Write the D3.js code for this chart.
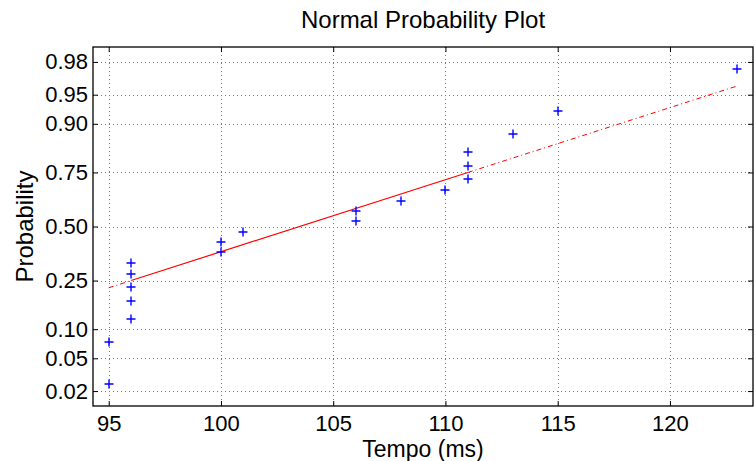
<!DOCTYPE html>
<html>
<head>
<title>Normal Probability Plot</title>
<script src="https://cdnjs.cloudflare.com/ajax/libs/d3/7.8.5/d3.min.js"></script>
<style>
  body { margin: 0; background: #fff; }
  svg text { font-family: "Liberation Sans", Arial, Helvetica, sans-serif; fill: #000; }
</style>
</head>
<body>
<svg id="chart" width="755" height="461"></svg>
<script>
// sorted sample values (ms) and their plotting probabilities
var tempo = [95, 95, 96, 96, 96, 96, 96, 100, 100, 101,
             106, 106, 108, 110, 111, 111, 111, 113, 115, 123];
var prob = [0.025, 0.075, 0.125, 0.175, 0.225, 0.275, 0.325, 0.375, 0.425, 0.475,
            0.525, 0.575, 0.625, 0.675, 0.725, 0.775, 0.825, 0.875, 0.925, 0.975];

// reference line: through the quartiles, extended to the data range
var fitX = [96, 111];
var fitP = [0.25, 0.75];
var fitRange = [95, 123];

var xTicks = [95, 100, 105, 110, 115, 120];
var yTicks = [0.02, 0.05, 0.10, 0.25, 0.50, 0.75, 0.90, 0.95, 0.98];
var yTickLabels = ["0.02", "0.05", "0.10", "0.25", "0.50", "0.75", "0.90", "0.95", "0.98"];

// inverse normal cdf (Acklam)
function norminv(p) {
  var a = [-39.69683028665376, 220.9460984245205, -275.9285104469687, 138.3577518672690, -30.66479806614716, 2.506628277459239];
  var b = [-54.47609879822406, 161.5858368580409, -155.6989798598866, 66.80131188771972, -13.28068155288572];
  var c = [-0.007784894002430293, -0.3223964580411365, -2.400758277161838, -2.549732539343734, 4.374664141464968, 2.938163982698783];
  var d = [0.007784695709041462, 0.3224671290700398, 2.445134137142996, 3.754408661907416];
  var pl = 0.02425, q, r;
  if (p < pl) {
    q = Math.sqrt(-2 * Math.log(p));
    return (((((c[0]*q+c[1])*q+c[2])*q+c[3])*q+c[4])*q+c[5]) / ((((d[0]*q+d[1])*q+d[2])*q+d[3])*q+1);
  }
  if (p > 1 - pl) {
    q = Math.sqrt(-2 * Math.log(1 - p));
    return -(((((c[0]*q+c[1])*q+c[2])*q+c[3])*q+c[4])*q+c[5]) / ((((d[0]*q+d[1])*q+d[2])*q+d[3])*q+1);
  }
  q = p - 0.5; r = q * q;
  return (((((a[0]*r+a[1])*r+a[2])*r+a[3])*r+a[4])*r+a[5])*q / (((((b[0]*r+b[1])*r+b[2])*r+b[3])*r+b[4])*r+1);
}

var margin = {top: 47, right: 2, bottom: 55, left: 93};
var svg = d3.select("#chart");
var W = +svg.attr("width") - margin.left - margin.right;
var H = +svg.attr("height") - margin.top - margin.bottom;
var g = svg.append("g").attr("transform", "translate(" + margin.left + "," + margin.top + ")");

var x = d3.scaleLinear().domain([94.3, 123.7]).range([0, W]);
var z = d3.scaleLinear().domain([-2.24, 2.24]).range([H, 0]);
function y(p) { return z(norminv(p)); }

// grid
g.selectAll(".vgrid").data(xTicks).enter().append("line")
  .attr("x1", d => Math.round(x(d)) + 0.5).attr("x2", d => Math.round(x(d)) + 0.5).attr("y1", 0).attr("y2", H)
  .attr("stroke", "#777").attr("stroke-width", 1).attr("stroke-dasharray", "1,3");
g.selectAll(".hgrid").data(yTicks).enter().append("line")
  .attr("x1", 0).attr("x2", W).attr("y1", d => Math.round(y(d)) + 0.5).attr("y2", d => Math.round(y(d)) + 0.5)
  .attr("stroke", "#777").attr("stroke-width", 1).attr("stroke-dasharray", "1,3");

// axes
var zTicks = yTicks.map(norminv);
g.append("g").attr("transform", "translate(0," + H + ")")
  .call(d3.axisBottom(x).tickValues(xTicks).tickSizeInner(-5).tickSizeOuter(0).tickPadding(9));
g.append("g")
  .call(d3.axisLeft(z).tickValues(zTicks).tickFormat((d, i) => yTickLabels[i]).tickSizeInner(-5).tickSizeOuter(0).tickPadding(5));
g.append("g")
  .call(d3.axisTop(x).tickValues(xTicks).tickSizeInner(-5).tickSizeOuter(0).tickFormat(""));
g.append("g").attr("transform", "translate(" + W + ",0)")
  .call(d3.axisRight(z).tickValues(zTicks).tickSizeInner(-5).tickSizeOuter(0).tickFormat(""));
g.selectAll(".domain").remove();
g.selectAll(".tick line").attr("stroke", "#000");
g.selectAll(".tick text").style("font-size", "22px").attr("fill", "#000");

g.append("rect").attr("width", W).attr("height", H)
  .attr("fill", "none").attr("stroke", "#000").attr("stroke-width", 1.3);

// reference line
var slope = (norminv(fitP[1]) - norminv(fitP[0])) / (fitX[1] - fitX[0]);
function fitZ(v) { return norminv(fitP[0]) + slope * (v - fitX[0]); }
var line = d3.line().x(d => x(d)).y(d => z(fitZ(d)));
g.append("path").datum([fitRange[0], fitX[0]]).attr("d", line)
  .attr("fill", "none").attr("stroke", "#ff0000").attr("stroke-width", 1).attr("stroke-dasharray", "5,3,1,3");
g.append("path").datum([fitX[1], fitRange[1]]).attr("d", line)
  .attr("fill", "none").attr("stroke", "#ff0000").attr("stroke-width", 1).attr("stroke-dasharray", "5,3,1,3");
g.append("path").datum(fitX).attr("d", line)
  .attr("fill", "none").attr("stroke", "#ff0000").attr("stroke-width", 1.2);

// data markers
var pts = tempo.map((t, i) => ({t: t, p: prob[i]}));
g.selectAll(".pt").data(pts).enter().append("path")
  .attr("transform", d => "translate(" + Math.round(x(d.t)) + "," + Math.round(y(d.p)) + ")")
  .attr("d", "M-4.5,0H4.5M0,-4.5V4.5")
  .attr("stroke", "#0000ff").attr("stroke-width", 1.4).attr("fill", "none");

// labels
svg.append("text").attr("x", margin.left + W / 2).attr("y", 28)
  .attr("text-anchor", "middle").style("font-size", "24px").text("Normal Probability Plot");
svg.append("text").attr("x", margin.left + W / 2).attr("y", 456.5)
  .attr("text-anchor", "middle").style("font-size", "23px").text("Tempo (ms)");
svg.append("text").attr("transform", "translate(33," + (margin.top + H / 2) + ") rotate(-90)")
  .attr("text-anchor", "middle").style("font-size", "24px").text("Probability");
</script>
</body>
</html>
